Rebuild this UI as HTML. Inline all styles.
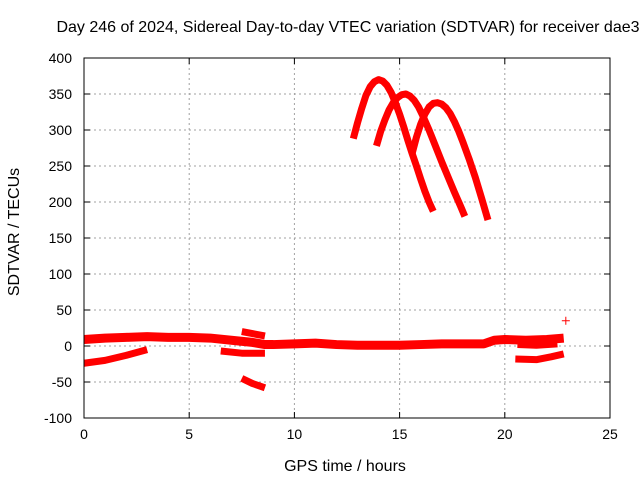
<!DOCTYPE html>
<html><head><meta charset="utf-8"><style>
body{margin:0;background:#fff}
svg text{font-family:"Liberation Sans",sans-serif;font-size:14px;fill:#000}
svg text.big{font-size:16px}
</style></head><body>
<svg width="640" height="480">
<g id="grid"></g><g id="series"></g><g id="axes"></g>
</svg>
<script>
const xTicks=[0,5,10,15,20,25];
const yTicks=[-100,-50,0,50,100,150,200,250,300,350,400];
const arc1Hours=[12.8,13.0,13.2,13.4,13.6,13.8,14.0,14.2,14.4,14.6,14.8,15.0,15.2,15.4,15.6,15.8,16.0,16.2,16.4,16.6];
const arc1Vals=[288,310,330,348,360,367,370,368,362,352,338,322,304,285,267,250,232,215,200,187];
const arc2Hours=[13.9,14.1,14.3,14.5,14.7,14.9,15.1,15.3,15.5,15.7,15.9,16.1,16.4,16.7,17.0,17.3,17.6,17.9,18.1];
const arc2Vals=[278,298,314,328,338,345,349,350,347,341,332,320,300,278,256,235,214,194,180];
const arc3Hours=[15.6,15.8,16.0,16.2,16.4,16.6,16.8,17.0,17.2,17.4,17.6,17.8,18.0,18.3,18.6,18.9,19.2];
const arc3Vals=[268,290,308,322,332,337,338,336,331,323,312,299,284,260,234,205,175];
const bandHours=[0,1,2,3,4,5,6,7,8,8.6,9,10,11,12,13,14,15,16,17,18,19,19.5,20,21,22,22.8];
const bandVals=[9,11,12,13,12,12,11,8,5,2,2,3,4,2,1,1,1,2,3,3,3,8,9,8,9,11];
const lowAHours=[0,1,2,3];const lowAVals=[-24,-20,-13,-5];
const lowBHours=[7.5,8.6];const lowBVals=[20,14];
const lowCHours=[6.5,7.5,8.6];const lowCVals=[-7,-10,-10];
const lowDHours=[7.5,8,8.6];const lowDVals=[-45,-52,-58];
const lowEHours=[20.5,21.5,22.2,22.8];const lowEVals=[-18,-19,-15,-11];
const lowFHours=[20.6,21.5,22.5];const lowFVals=[2,1,3];
const outlierHours=[22.9];const outlierVals=[35];

const X0=84,X1=610,Y0=418,Y1=58;
const xs=h=>X0+(h-0)/25*(X1-X0);
const ys=v=>Y0-(v+100)/500*(Y0-Y1);
const NS='http://www.w3.org/2000/svg';
function mk(tag,attrs,parent){const e=document.createElementNS(NS,tag);for(const k in attrs)e.setAttribute(k,attrs[k]);parent.appendChild(e);return e;}
const grid=document.getElementById('grid'),ser=document.getElementById('series'),ax=document.getElementById('axes');
xTicks.forEach(t=>{
 if(t>0&&t<25){const l=mk('line',{x1:xs(t),x2:xs(t),y1:Y1,y2:Y0,stroke:'#a0a0a0','stroke-dasharray':'2,3'},grid);
 }
 mk('line',{x1:xs(t),x2:xs(t),y1:Y0,y2:Y0-6,stroke:'#000'},ax);
 mk('line',{x1:xs(t),x2:xs(t),y1:Y1,y2:Y1+6,stroke:'#000'},ax);
 const tx=mk('text',{x:xs(t),y:Y0+21,'text-anchor':'middle'},ax);tx.textContent=t;
 
});
yTicks.forEach(t=>{
 if(t>-100&&t<400){const l=mk('line',{x1:X0,x2:X1,y1:ys(t),y2:ys(t),stroke:'#a0a0a0','stroke-dasharray':'2,3'},grid);
 }
 mk('line',{x1:X0,x2:X0+6,y1:ys(t),y2:ys(t),stroke:'#000'},ax);
 mk('line',{x1:X1,x2:X1-6,y1:ys(t),y2:ys(t),stroke:'#000'},ax);
 const tx=mk('text',{x:X0-12,y:ys(t)+5,'text-anchor':'end'},ax);tx.textContent=t;
 
});
const fr=mk('rect',{x:X0,y:Y1,width:X1-X0,height:Y0-Y1,fill:'none',stroke:'#000'},ax);

function series(hs,vs,name,w){
 const p=mk('polyline',{points:hs.map((h,i)=>xs(h)+','+ys(vs[i])).join(' '),fill:'none',stroke:'#f00','stroke-width':w,'stroke-linejoin':'round','stroke-linecap':'butt'},ser);
 
}
series(arc1Hours,arc1Vals,'arc-1',7);
series(arc2Hours,arc2Vals,'arc-2',7);
series(arc3Hours,arc3Vals,'arc-3',7);
series(bandHours,bandVals,'main-band',9);
series(lowAHours,lowAVals,'low-track-a',7);
series(lowBHours,lowBVals,'low-track-b',7);
series(lowCHours,lowCVals,'low-track-c',7);
series(lowDHours,lowDVals,'low-track-d',7);
series(lowEHours,lowEVals,'low-track-e',7);
series(lowFHours,lowFVals,'low-track-f',7);
outlierHours.forEach((h,i)=>{
 const g=mk('path',{d:`M${xs(h)-4},${ys(outlierVals[i])}h8M${xs(h)},${ys(outlierVals[i])-4}v8`,stroke:'#f00','stroke-width':1},ser);
 
});
const t1=mk('text',{x:348,y:32,'text-anchor':'middle',class:'big'},ax);t1.textContent='Day 246 of 2024, Sidereal Day-to-day VTEC variation (SDTVAR) for receiver dae3';

const t2=mk('text',{x:345,y:471,'text-anchor':'middle',class:'big'},ax);t2.textContent='GPS time / hours';

const t3=mk('text',{x:19,y:232,'text-anchor':'middle',transform:'rotate(-90 19 232)',class:'big'},ax);t3.textContent='SDTVAR / TECUs';

</script>
</body></html>
